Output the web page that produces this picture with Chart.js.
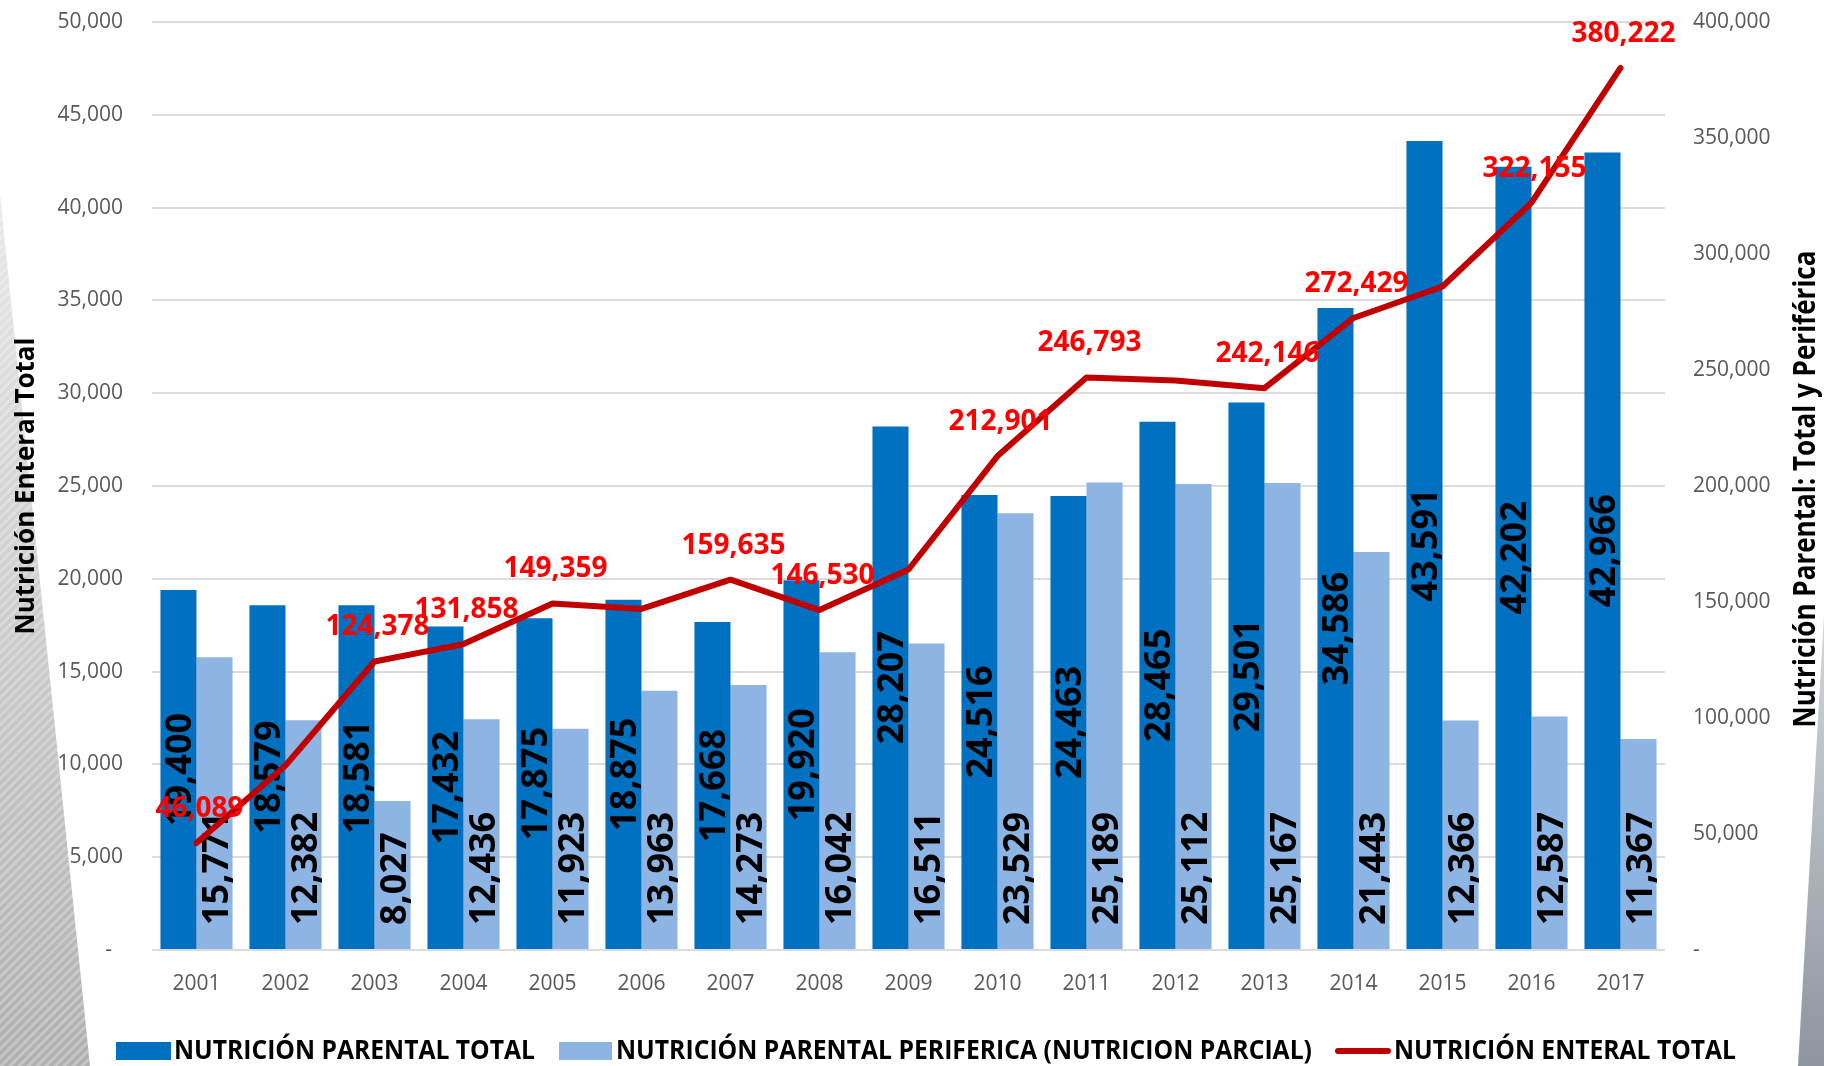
<!DOCTYPE html>
<html lang="es">
<head>
<meta charset="utf-8">
<title>Nutrición parental y enteral 2001-2017</title>
<script src="https://cdn.jsdelivr.net/npm/chart.js@4.4.1/dist/chart.umd.min.js"></script>
<style>
  html, body { margin: 0; padding: 0; background: #fff; }
  #wrap { width: 1824px; height: 1066px; position: relative; }
</style>
</head>
<body>
<div id="wrap"><canvas id="chart" width="1824" height="1066"></canvas></div>
<script>
// --- DATA ---
const years = ['2001', '2002', '2003', '2004', '2005', '2006', '2007', '2008', '2009',
               '2010', '2011', '2012', '2013', '2014', '2015', '2016', '2017'];

const parentalTotal = [19400, 18579, 18581, 17432, 17875, 18875, 17668, 19920, 28207,
                       24516, 24463, 28465, 29501, 34586, 43591, 42202, 42966];

const parentalPeriferica = [15771, 12382, 8027, 12436, 11923, 13963, 14273, 16042, 16511,
                            23529, 25189, 25112, 25167, 21443, 12366, 12587, 11367];

const enteralTotal = [46089, 79500, 124378, 131858, 149359, 147000, 159635, 146530, 164000,
                      212901, 246793, 245500, 242146, 272429, 286000, 322155, 380222];

// which points of the enteral line carry a value label
const enteralLabelled = [true, false, true, true, true, false, true, true, false,
                         true, true, false, true, true, false, true, true];

const seriesNames = ['NUTRICIÓN PARENTAL TOTAL',
                     'NUTRICIÓN PARENTAL PERIFERICA (NUTRICION PARCIAL)',
                     'NUTRICIÓN ENTERAL TOTAL'];

const leftTitle = 'Nutrición Enteral Total';
const rightTitle = 'Nutrición Parental: Total y Periférica';

// --- STYLE ---
const DARK_BLUE = '#0070C0';
const LIGHT_BLUE = '#8EB4E3';
const LINE_RED = '#C00000';
const LABEL_RED = '#FF0000';
const TICK_GREY = '#595959';
const FONT = '"Open Sans", "Liberation Sans", Arial, sans-serif';

const fmt = v => v.toLocaleString('en-US');

// draws a string centred on (cx, cy), squeezed horizontally to a given width
function drawFitted(ctx, text, cx, cy, font, width, angle) {
    ctx.save();
    ctx.font = font;
    const natural = ctx.measureText(text).width;
    ctx.translate(cx, cy);
    ctx.rotate(angle || 0);
    ctx.scale(width / natural, 1);
    ctx.textAlign = 'center';
    ctx.textBaseline = 'middle';
    ctx.fillText(text, 0, 0);
    ctx.restore();
}

// fixed axis box; drop the tick padding Chart.js adds above/below vertical axes
function fixWidth(w) {
    return scale => {
        scale.width = w;
        scale.paddingTop = 0;
        scale.paddingBottom = 0;
    };
}

// grey striped wedges at the page edges
const backdrop = {
    id: 'backdrop',
    beforeDraw(chart) {
        const ctx = chart.ctx;
        ctx.save();
        ctx.beginPath();
        ctx.moveTo(0, 195);
        ctx.lineTo(90, 1066);
        ctx.lineTo(0, 1066);
        ctx.closePath();
        ctx.clip();
        const g = ctx.createLinearGradient(0, 195, 0, 1066);
        g.addColorStop(0, '#e8e8e8');
        g.addColorStop(1, '#b0b0b0');
        ctx.fillStyle = g;
        ctx.fillRect(0, 195, 100, 871);
        ctx.strokeStyle = 'rgba(255,255,255,0.28)';
        ctx.lineWidth = 3;
        for (let k = 0; k < 1100; k += 9) {
            ctx.beginPath();
            ctx.moveTo(-10, 195 + k);
            ctx.lineTo(110, 195 + k - 120);
            ctx.stroke();
        }
        ctx.restore();

        ctx.save();
        ctx.beginPath();
        ctx.moveTo(1824, 615);
        ctx.lineTo(1824, 1066);
        ctx.lineTo(1798, 1066);
        ctx.closePath();
        const g2 = ctx.createLinearGradient(0, 615, 0, 1066);
        g2.addColorStop(0, '#d4d7db');
        g2.addColorStop(1, '#8e959e');
        ctx.fillStyle = g2;
        ctx.fill();
        ctx.restore();
    }
};

// value labels on bars and on the line
const valueLabels = {
    id: 'valueLabels',
    afterDatasetDraw(chart, args) {
        const ds = chart.data.datasets[args.index];
        if (ds.type === 'line') return;
        const ctx = chart.ctx;
        ctx.save();
        ctx.font = 'bold 36px ' + FONT;
        ctx.fillStyle = '#000';
        ctx.textBaseline = 'alphabetic';
        args.meta.data.forEach((bar, i) => {
            const text = fmt(ds.data[i]);
            ctx.save();
            if (ds.labelAnchor === 'center') {
                ctx.translate(bar.x, (bar.y + bar.base) / 2);
                ctx.textAlign = 'center';
            } else {
                ctx.translate(bar.x, bar.base - 24);
                ctx.textAlign = 'left';
            }
            ctx.rotate(-Math.PI / 2);
            ctx.fillText(text, 0, 13);
            ctx.restore();
        });
        ctx.restore();
    },
    afterDatasetsDraw(chart) {
        const ctx = chart.ctx;
        const idx = chart.data.datasets.findIndex(d => d.type === 'line');
        const meta = chart.getDatasetMeta(idx);
        ctx.save();
        ctx.font = 'bold 28px ' + FONT;
        ctx.fillStyle = LABEL_RED;
        ctx.textAlign = 'center';
        ctx.textBaseline = 'alphabetic';
        meta.data.forEach((pt, i) => {
            if (!enteralLabelled[i]) return;
            ctx.fillText(fmt(enteralTotal[i]), pt.x + 3, pt.y - 26);
        });
        ctx.restore();
    }
};

// axis titles and the legend row
const titlesAndLegend = {
    id: 'titlesAndLegend',
    afterDraw(chart) {
        const ctx = chart.ctx;
        ctx.fillStyle = '#000';
        drawFitted(ctx, leftTitle, 26, 486, 'bold 27px ' + FONT, 297, -Math.PI / 2);
        drawFitted(ctx, rightTitle, 1806, 489, 'bold 30px ' + FONT, 477, -Math.PI / 2);

        const y = 1051;
        const legendFont = 'bold 27px ' + FONT;
        // box / line swatches
        ctx.fillStyle = DARK_BLUE;
        ctx.fillRect(116, y - 9, 55, 18);
        ctx.fillStyle = LIGHT_BLUE;
        ctx.fillRect(559, y - 9, 53, 18);
        ctx.save();
        ctx.strokeStyle = LINE_RED;
        ctx.lineWidth = 6;
        ctx.lineCap = 'round';
        ctx.beginPath();
        ctx.moveTo(1338, y);
        ctx.lineTo(1388, y);
        ctx.stroke();
        ctx.restore();

        ctx.fillStyle = '#000';
        drawFitted(ctx, seriesNames[0], (174 + 535) / 2, y, legendFont, 361, 0);
        drawFitted(ctx, seriesNames[1], (616 + 1312) / 2, y, legendFont, 696, 0);
        drawFitted(ctx, seriesNames[2], (1394 + 1736) / 2, y, legendFont, 342, 0);
    }
};

const ctx = document.getElementById('chart').getContext('2d');
new Chart(ctx, {
    type: 'bar',
    data: {
        labels: years,
        datasets: [
            {
                label: seriesNames[0],
                data: parentalTotal,
                backgroundColor: DARK_BLUE,
                yAxisID: 'y',
                order: 1,
                labelAnchor: 'center',
                barPercentage: 1.0,
                categoryPercentage: 0.81
            },
            {
                label: seriesNames[1],
                data: parentalPeriferica,
                backgroundColor: LIGHT_BLUE,
                yAxisID: 'y',
                order: 1,
                labelAnchor: 'base',
                barPercentage: 1.0,
                categoryPercentage: 0.81
            },
            {
                type: 'line',
                label: seriesNames[2],
                data: enteralTotal,
                borderColor: LINE_RED,
                backgroundColor: LINE_RED,
                borderWidth: 6,
                borderCapStyle: 'round',
                borderJoinStyle: 'round',
                pointRadius: 0,
                tension: 0,
                yAxisID: 'y2',
                order: 0
            }
        ]
    },
    options: {
        responsive: false,
        devicePixelRatio: 1,
        animation: false,
        events: [],
        layout: { padding: { top: 22, left: 0, right: 0, bottom: 0 } },
        plugins: {
            legend: { display: false },
            tooltip: { enabled: false }
        },
        scales: {
            x: {
                grid: { display: false, drawTicks: false },
                border: { display: false },
                ticks: { color: TICK_GREY, font: { family: FONT, size: 21 }, padding: 21 },
                afterFit: scale => { scale.height = 116; }
            },
            y: {
                position: 'left',
                min: 0,
                max: 50000,
                grid: { color: '#dcdcdc', lineWidth: 2, drawTicks: false },
                border: { display: false },
                ticks: {
                    stepSize: 5000,
                    color: TICK_GREY,
                    font: { family: FONT, size: 21 },
                    padding: 29,
                    callback: v => v === 0 ? '-  ' : fmt(v)
                },
                afterFit: fixWidth(152)
            },
            y2: {
                position: 'right',
                min: 0,
                max: 400000,
                grid: { display: false, drawTicks: false },
                border: { display: false },
                ticks: {
                    stepSize: 50000,
                    color: TICK_GREY,
                    font: { family: FONT, size: 21 },
                    padding: 28,
                    callback: v => v === 0 ? '-' : fmt(v)
                },
                afterFit: fixWidth(159)
            }
        }
    },
    plugins: [backdrop, valueLabels, titlesAndLegend]
});
</script>
</body>
</html>
